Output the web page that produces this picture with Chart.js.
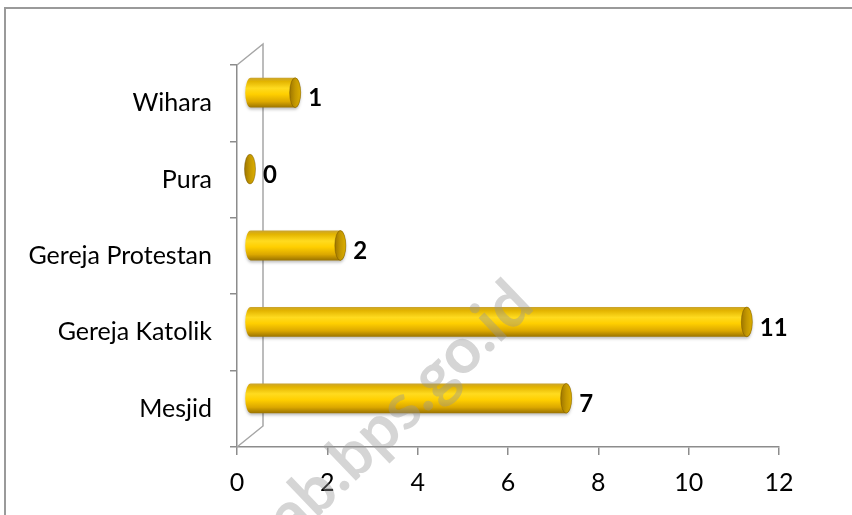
<!DOCTYPE html>
<html>
<head>
<meta charset="utf-8">
<script src="https://cdn.jsdelivr.net/npm/chart.js@4.4.1/dist/chart.umd.min.js"></script>
<style>
  html, body { margin: 0; padding: 0; background: #fff; }
  #wrap { width: 852px; height: 515px; }
</style>
</head>
<body>
<div id="wrap"><canvas id="chart" width="852" height="515"></canvas></div>
<script>
// --- data ---
const categories = ['Wihara', 'Pura', 'Gereja Protestan', 'Gereja Katolik', 'Mesjid'];
const counts = [1, 0, 2, 11, 7];
const xTicks = [0, 2, 4, 6, 8, 10, 12];

// 3D look: bars sit half way into the depth of the floor
const DX = 13, DY = -10.5, RX = 5.5;
const WALL_DX = 26, WALL_DY = -21;
const axisColor = '#8c8c8c';
const fontFamily = 'Lato, "Open Sans", sans-serif';

const cylinderPlugin = {
    id: 'cylinders',
    beforeDraw(chart) {
        const c = chart.ctx;
        c.save();
        c.strokeStyle = '#9a9a9a';
        c.lineWidth = 2;
        c.beginPath();
        c.moveTo(5, 515);
        c.lineTo(5, 8);
        c.lineTo(852, 8);
        c.stroke();
        c.restore();
    },
    beforeDatasetsDraw(chart) {
        const c = chart.ctx, a = chart.chartArea;
        c.save();
        c.strokeStyle = '#a6a6a6';
        c.lineWidth = 1.5;
        c.beginPath();
        c.moveTo(a.left, a.top);
        c.lineTo(a.left + WALL_DX, a.top + WALL_DY);
        c.lineTo(a.left + WALL_DX, a.bottom + WALL_DY);
        c.lineTo(a.left, a.bottom);
        c.stroke();
        c.restore();
    },
    afterDatasetsDraw(chart) {
        const c = chart.ctx;
        const meta = chart.getDatasetMeta(0);
        meta.data.forEach((bar, i) => {
            const p = bar.getProps(['x', 'y', 'base', 'height'], true);
            const x0 = p.base + DX, x1 = p.x + DX, cy = p.y + DY;
            const h = p.height, top = cy - h / 2;
            c.save();
            if (x1 - x0 > 0.5) {
                const g = c.createLinearGradient(0, top, 0, top + h);
                g.addColorStop(0, '#c9a330');
                g.addColorStop(0.12, '#e3b400');
                g.addColorStop(0.35, '#ffdb1f');
                g.addColorStop(0.55, '#ffcf00');
                g.addColorStop(0.8, '#dca800');
                g.addColorStop(1, '#9a7300');
                c.shadowColor = 'rgba(0,0,0,0.25)';
                c.shadowOffsetY = 2;
                c.shadowBlur = 3;
                c.fillStyle = g;
                c.beginPath();
                c.ellipse(x0, cy, RX, h / 2, 0, Math.PI / 2, Math.PI * 1.5);
                c.lineTo(x1, top);
                c.ellipse(x1, cy, RX, h / 2, 0, -Math.PI / 2, Math.PI / 2);
                c.closePath();
                c.fill();
                c.shadowColor = 'transparent';
            }
            // end cap
            const cg = c.createLinearGradient(x1 - RX, 0, x1 + RX, 0);
            cg.addColorStop(0, '#9e7600');
            cg.addColorStop(0.5, '#c49800');
            cg.addColorStop(1, '#dcae00');
            c.fillStyle = cg;
            c.beginPath();
            c.ellipse(x1, cy, RX, h / 2, 0, 0, Math.PI * 2);
            c.fill();
            c.strokeStyle = 'rgba(110,80,0,0.45)';
            c.lineWidth = 1;
            c.stroke();

            // value label
            c.fillStyle = '#000';
            c.font = 'bold 24px ' + fontFamily;
            c.textAlign = 'left';
            c.textBaseline = 'middle';
            c.fillText(String(counts[i]), x1 + 13, cy + 6);
            c.restore();
        });
    },
    afterDraw(chart) {
        const c = chart.ctx;
        c.save();
        c.translate(400, 410);
        c.rotate(-Math.atan2(215, 225));
        c.font = 'bold 64px ' + fontFamily;
        c.fillStyle = 'rgba(150,150,150,0.4)';
        c.textAlign = 'center';
        c.textBaseline = 'middle';
        c.fillText('ab.bps.go.id', 0, 0);
        c.restore();
    }
};

new Chart(document.getElementById('chart'), {
    type: 'bar',
    data: {
        labels: categories,
        datasets: [{
            data: counts,
            backgroundColor: 'rgba(0,0,0,0)',
            borderWidth: 0,
            barPercentage: 0.39,
            categoryPercentage: 1
        }]
    },
    options: {
        indexAxis: 'y',
        responsive: false,
        animation: false,
        devicePixelRatio: 1,
        layout: { padding: { top: 65, right: 73, left: 0, bottom: 0 } },
        plugins: { legend: { display: false }, tooltip: { enabled: false } },
        scales: {
            x: {
                type: 'linear',
                min: 0,
                max: 12,
                afterBuildTicks(scale) { scale.ticks = xTicks.map(v => ({ value: v })); },
                afterFit(scale) { scale.height = 68; },
                ticks: { color: '#000', padding: 13, font: { family: fontFamily, size: 25 } },
                grid: { drawOnChartArea: false, tickLength: 8, color: axisColor, lineWidth: 1.5 },
                border: { color: axisColor, width: 1.5 }
            },
            y: {
                afterFit(scale) { scale.width = 237; },
                ticks: { color: '#000', padding: 18, font: { family: fontFamily, size: 25 } },
                grid: { drawOnChartArea: false, tickLength: 7, color: axisColor, lineWidth: 1.5 },
                border: { color: axisColor, width: 1.5 }
            }
        }
    },
    plugins: [cylinderPlugin]
});
</script>
</body>
</html>
